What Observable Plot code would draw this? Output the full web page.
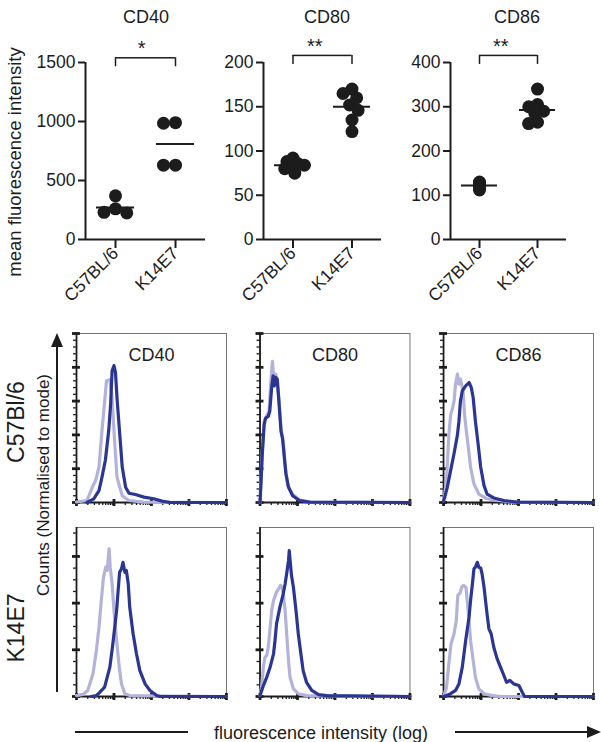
<!DOCTYPE html>
<html>
<head>
<meta charset="utf-8">
<script src="https://cdn.jsdelivr.net/npm/d3@7"></script>
<script src="https://cdn.jsdelivr.net/npm/@observablehq/plot@0.6"></script>
<style>
  body { margin: 0; background: #fff; }
  #fig { position: relative; width: 601px; height: 742px; overflow: hidden;
         font-family: Arial, "Liberation Sans", Helvetica, sans-serif; color: #1c1c1c; }
  .abs { position: absolute; }
  .lbl { position: absolute; white-space: nowrap; line-height: 1; }
  .bar { position: absolute; background: #1c1c1c; }
</style>
</head>
<body>
<div id="fig"></div>
<script>
// ---------------- data ----------------
const groups = ["C57BL/6", "K14E7"];
const markers = ["CD40", "CD80", "CD86"];
const significance = ["*", "**", "**"];

// mean fluorescence intensity, one value per mouse
const cd40_C57BL6 = [370, 260, 230, 225];
const cd40_K14E7  = [990, 985, 630, 630];
const cd80_C57BL6 = [92, 88, 86, 84, 82, 80, 75];
const cd80_K14E7  = [170, 165, 160, 152, 146, 135, 122];
const cd86_C57BL6 = [130, 127, 125, 122, 120, 117, 112];
const cd86_K14E7  = [340, 305, 300, 290, 285, 265, 262];

const yTicks_cd40 = [0, 500, 1000, 1500];
const yTicks_cd80 = [0, 50, 100, 150, 200];
const yTicks_cd86 = [0, 100, 200, 300, 400];
const bracketLevel = [1540, 208, 416];

// histograms: [log10 fluorescence intensity, % of mode]
const kinds = ["isotype", "stained"];
const b6_cd40_iso = [[1.00,0.3],[1.28,1.2],[1.42,9],[1.51,13],[1.60,21],[1.68,42.6],[1.76,62],[1.80,72],[1.89,72.6],[1.95,62],[2.01,38.6],[2.08,15],[2.22,4],[2.40,1.2],[2.80,0.2],[5.0,0]];
const b6_cd40_ab  = [[1.28,0],[1.46,2.2],[1.60,7],[1.68,15],[1.77,25],[1.86,42.6],[1.91,58],[1.95,78],[2.00,81],[2.04,77],[2.08,62],[2.16,38.6],[2.22,21],[2.31,9],[2.40,5.5],[2.57,4.7],[2.80,3.2],[3.06,2.2],[3.28,0.8],[3.50,0],[5.0,0]];
const b6_cd80_iso = [[1.00,0.2],[1.02,11],[1.06,30],[1.11,48],[1.17,51],[1.24,54],[1.29,72],[1.33,83.5],[1.37,74],[1.42,76],[1.46,70],[1.51,60],[1.56,44],[1.62,36],[1.67,22],[1.74,10],[1.86,5],[2.05,1.6],[2.32,0.2],[5.0,0]];
const b6_cd80_ab  = [[1.00,0.2],[1.02,9],[1.06,28.6],[1.11,46],[1.15,50],[1.22,51],[1.26,54],[1.31,68],[1.35,75],[1.38,69],[1.42,74],[1.46,73],[1.49,64],[1.56,42],[1.60,38],[1.64,28.6],[1.69,17],[1.76,9],[1.87,4],[2.05,1.2],[2.32,0.2],[5.0,0]];
const b6_cd86_iso = [[1.00,1],[1.03,5],[1.08,13],[1.14,40],[1.19,52],[1.23,55],[1.28,60],[1.32,70],[1.37,76],[1.41,70],[1.45,73],[1.52,66],[1.56,52],[1.61,42],[1.68,29],[1.72,21],[1.81,11],[1.94,5],[2.16,2.2],[2.43,1.2],[2.88,0.2],[5.0,0]];
const b6_cd86_ab  = [[1.00,1],[1.03,3],[1.10,9],[1.19,19],[1.28,29],[1.37,40],[1.41,48],[1.45,60],[1.50,66],[1.59,69],[1.68,71],[1.74,68],[1.79,62],[1.85,48],[1.92,35],[1.99,21],[2.08,10],[2.16,5],[2.34,2.7],[2.61,1.2],[2.96,0.2],[5.0,0]];
const k14_cd40_iso = [[1.00,0.4],[1.17,0.9],[1.30,2.6],[1.44,9.7],[1.53,19.7],[1.60,29.7],[1.66,41],[1.72,51],[1.78,55.4],[1.82,54],[1.87,63.3],[1.90,55.4],[1.95,48.3],[2.00,36.8],[2.07,24],[2.14,12.6],[2.20,5.4],[2.29,1.2],[2.42,0.4],[5.0,0]];
const k14_cd40_ab  = [[1.39,0],[1.53,0.4],[1.62,1.8],[1.75,4],[1.89,12.6],[1.97,22.6],[2.07,36.8],[2.11,45.4],[2.15,53.2],[2.20,54.7],[2.24,57.5],[2.29,53.2],[2.33,54],[2.38,48.3],[2.42,38.3],[2.51,26.9],[2.60,18.3],[2.69,11.1],[2.83,5.4],[2.96,2.6],[3.14,0.4],[3.23,0],[5.0,0]];
const k14_cd80_iso = [[1.00,0.4],[1.04,4],[1.09,12.6],[1.13,16.8],[1.18,17.6],[1.22,21.1],[1.27,29.7],[1.31,36.8],[1.36,41.1],[1.44,44.7],[1.55,47.6],[1.59,46.8],[1.62,44],[1.67,36.8],[1.71,26.9],[1.76,15.4],[1.80,8.3],[1.89,3.3],[2.02,1.2],[2.24,0.4],[5.0,0]];
const k14_cd80_ab  = [[1.00,0.4],[1.09,4.7],[1.18,8.3],[1.27,12.6],[1.36,18.3],[1.40,24],[1.44,31.1],[1.53,38.3],[1.62,44],[1.67,48.3],[1.71,52.6],[1.76,58.3],[1.78,62.5],[1.81,56.9],[1.84,51.8],[1.89,46.8],[1.96,36.8],[2.02,26.9],[2.09,18.3],[2.15,11.1],[2.24,6.1],[2.38,2.6],[2.56,0.8],[2.78,0.4],[5.0,0]];
const k14_cd86_iso = [[1.01,0.4],[1.08,4],[1.14,14],[1.20,22.6],[1.28,26.9],[1.34,32.6],[1.38,43.3],[1.44,44.3],[1.49,47.1],[1.54,47.6],[1.60,46.6],[1.63,41.1],[1.68,32.6],[1.72,24],[1.79,15.4],[1.85,8.3],[1.94,3.3],[2.08,1.2],[2.30,0.4],[2.52,0],[5.0,0]];
const k14_cd86_ab  = [[1.01,0],[1.19,1.2],[1.32,2.6],[1.41,5.4],[1.50,12.6],[1.59,24],[1.68,34],[1.72,41.1],[1.77,48.3],[1.81,54.7],[1.85,55.4],[1.90,57.5],[1.94,55.4],[1.99,55.1],[2.03,52.3],[2.08,46.8],[2.12,41.1],[2.16,35.4],[2.21,29],[2.27,26.9],[2.34,21.1],[2.43,16.1],[2.52,12.6],[2.61,9],[2.68,6.1],[2.77,6.9],[2.87,5.4],[3.01,4.7],[3.10,1.8],[3.16,0],[5.0,0]];

const histXDomain = [1, 5];
const histXMajor = [1, 2, 3, 4, 5];
const histXMinor = d3.range(1, 5).flatMap(d => d3.range(2, 10).map(k => d + Math.log10(k)));
const row1YMax = 100, row1YMajor = [0, 20, 40, 60, 80, 100], row1YMinor = d3.range(0, 101, 4).filter(d => d % 20);
const row2YMax = 72.4, row2YMajor = [0, 20, 40, 60], row2YMinor = d3.range(0, 72, 5).filter(d => d % 20);

// ---------------- styling ----------------
const FONT = "Arial, 'Liberation Sans', Helvetica, sans-serif";
const INK = "#1c1c1c";
const LIGHT = "#b3b3da";
const DARK = "#2b3692";
const fig = document.getElementById("fig");

function place(node, left, top) {
  const d = document.createElement("div");
  d.className = "abs";
  d.style.left = left + "px";
  d.style.top = top + "px";
  d.appendChild(node);
  fig.appendChild(d);
}
function label(text, cx, cy, size, rotate) {
  const d = document.createElement("div");
  d.className = "lbl";
  d.textContent = text;
  d.style.left = cx + "px";
  d.style.top = cy + "px";
  d.style.fontSize = size + "px";
  d.style.transform = "translate(-50%,-50%)" + (rotate ? " rotate(-90deg)" : "");
  fig.appendChild(d);
}
function bar(left, top, w, h) {
  const d = document.createElement("div");
  d.className = "bar";
  Object.assign(d.style, {left: left + "px", top: top + "px", width: w + "px", height: h + "px"});
  fig.appendChild(d);
}
function head(left, top, dir) {
  const d = document.createElement("div");
  d.className = "abs";
  d.style.left = left + "px";
  d.style.top = top + "px";
  d.style.width = "0"; d.style.height = "0";
  if (dir === "up") {
    d.style.borderLeft = "6px solid transparent";
    d.style.borderRight = "6px solid transparent";
    d.style.borderBottom = "14px solid " + INK;
  } else {
    d.style.borderTop = "6px solid transparent";
    d.style.borderBottom = "6px solid transparent";
    d.style.borderLeft = "14px solid " + INK;
  }
  fig.appendChild(d);
}

// ---------------- top: scatter panels ----------------
function scatterPanel(i, c57, k14, yTicks, layout) {
  const rowsA = c57.map(value => ({group: groups[0], value}));
  const rowsB = k14.map(value => ({group: groups[1], value}));
  const rows = [...rowsA, ...rowsB];
  const yMax = yTicks[yTicks.length - 1];
  const bracket = [{from: groups[0], to: groups[1], y: bracketLevel[i], label: significance[i]}];
  const half = layout.frameW / 4;
  const dims = {
    width: layout.width, height: 320,
    marginLeft: layout.marginLeft, marginRight: layout.width - layout.marginLeft - layout.frameW,
    marginTop: 62, marginBottom: 81,
    style: {fontFamily: FONT, fontSize: "17px", color: INK, background: "transparent", overflow: "visible"}
  };
  const dotOpts = {fx: "group", y: "value", r: 6.5, fill: INK, stroke: null};
  const plot = Plot.plot({
    ...dims,
    fx: {domain: groups, padding: 0, round: false, label: null},
    y: {domain: [0, yMax], label: null},
    marks: [
      Plot.ruleY([0], {stroke: INK, strokeWidth: 2}),
      Plot.axisY(yTicks, {tickSize: 7, tickPadding: 3, strokeWidth: 2, fontSize: 17.5, tickFormat: "d", label: null}),
      Plot.axisFx({anchor: "bottom", tickSize: 9, tickRotate: -45, tickPadding: 2, strokeWidth: 2, fontSize: 17.5, label: null}),
      Plot.dot(rowsA, Plot.dodgeX({anchor: "middle", padding: layout.dodgePad[0]}, dotOpts)),
      Plot.dot(rowsB, Plot.dodgeX({anchor: "middle", padding: layout.dodgePad[1]}, dotOpts)),
      Plot.tickY(rows, Plot.groupZ({y: "mean"}, {fx: "group", y: "value", stroke: INK, strokeWidth: 2, insetLeft: 11, insetRight: 11})),
      Plot.ruleY(bracket, {fx: "from", y: "y", insetLeft: half, stroke: INK, strokeWidth: 1.5}),
      Plot.ruleY(bracket, {fx: "to", y: "y", insetRight: half, stroke: INK, strokeWidth: 1.5}),
      Plot.ruleX(bracket, {fx: "from", x: null, y1: "y", y2: "y", insetBottom: -9, stroke: INK, strokeWidth: 1.5}),
      Plot.ruleX(bracket, {fx: "to", x: null, y1: "y", y2: "y", insetBottom: -9, stroke: INK, strokeWidth: 1.5}),
      Plot.text(bracket, {fx: "from", y: "y", text: "label", frameAnchor: "right", dy: -9, fontSize: 20, fill: INK})
    ]
  });
  place(plot, layout.left, 0);
  // y axis line, drawn in an unfaceted overlay sharing the same frame
  const axisLine = Plot.plot({
    ...dims,
    x: {domain: [0, 1], axis: null},
    y: {domain: [0, yMax], axis: null},
    marks: [Plot.ruleX([0], {y1: 0, y2: yMax, stroke: INK, strokeWidth: 2})]
  });
  place(axisLine, layout.left, 0);
}

scatterPanel(0, cd40_C57BL6, cd40_K14E7, yTicks_cd40, {left: 0, width: 212, marginLeft: 85, frameW: 120, dodgePad: [-1, -1]});
scatterPanel(1, cd80_C57BL6, cd80_K14E7, yTicks_cd80, {left: 205, width: 185, marginLeft: 58, frameW: 118, dodgePad: [-6, -3]});
scatterPanel(2, cd86_C57BL6, cd86_K14E7, yTicks_cd86, {left: 390, width: 211, marginLeft: 60, frameW: 116, dodgePad: [-7, -4]});

label("CD40", 146, 17, 18);
label("CD80", 327, 17, 18);
label("CD86", 517, 17, 18);
label("mean fluorescence intensity", 15, 162, 18.5, true);

// ---------------- bottom: histograms ----------------
function histRow(curves, yMax, yMajor, yMinor, withTitles, top, marginTop, marginBottom) {
  const height = 195, BW = 150;
  const H = height - marginTop - marginBottom;
  const rows = [];
  markers.forEach((m, j) => kinds.forEach((kind, k) => {
    for (const [lg, pct] of curves[j][k]) rows.push({marker: m, kind, lg, pct});
  }));
  const plot = Plot.plot({
    width: 541, height, marginLeft: 16, marginRight: 8, marginTop, marginBottom,
    style: {fontFamily: FONT, fontSize: "18px", color: INK, background: "transparent", overflow: "visible"},
    fx: {domain: markers, paddingInner: 0.183, paddingOuter: 0, round: false, axis: null},
    x: {domain: histXDomain, axis: null},
    y: {domain: [0, yMax], axis: null},
    color: {domain: kinds, range: [LIGHT, DARK]},
    marks: [
      Plot.frame({stroke: "#555", strokeWidth: 0.8}),
      Plot.ruleX([histXDomain[0]], {stroke: INK, strokeWidth: 1.8}),
      Plot.ruleY([0], {stroke: INK, strokeWidth: 1.8}),
      Plot.tickY(yMajor, {y: d => d, insetLeft: -4, insetRight: BW - 4, stroke: INK, strokeWidth: 2.8}),
      Plot.tickY(yMinor, {y: d => d, insetLeft: -3, insetRight: BW, stroke: INK, strokeWidth: 1.3}),
      Plot.tickX(histXMajor, {x: d => d, insetTop: H - 3, insetBottom: -4, stroke: INK, strokeWidth: 2.8}),
      Plot.tickX(histXMinor, {x: d => d, insetTop: H, insetBottom: -3, stroke: INK, strokeWidth: 1.3}),
      Plot.line(rows, {fx: "marker", x: "lg", y: "pct", z: "kind", stroke: "kind", strokeWidth: 3.2, strokeLinejoin: "round"}),
      withTitles ? Plot.text(markers, {fx: d => d, text: d => d, frameAnchor: "top", dy: 15, fontSize: 18, fill: INK}) : null
    ]
  });
  place(plot, 60, top);
}

histRow([[b6_cd40_iso, b6_cd40_ab], [b6_cd80_iso, b6_cd80_ab], [b6_cd86_iso, b6_cd86_ab]],
        row1YMax, row1YMajor, row1YMinor, true, 320, 13, 13);
histRow([[k14_cd40_iso, k14_cd40_ab], [k14_cd80_iso, k14_cd80_ab], [k14_cd86_iso, k14_cd86_ab]],
        row2YMax, row2YMajor, row2YMinor, false, 515, 12, 14);

label("C57Bl/6", 16, 422, 23, true);
label("K14E7", 16, 628, 23, true);
label("Counts (Normalised to mode)", 43, 485, 17, true);
label("fluorescence intensity (log)", 321, 733, 18);

// axis arrows
bar(56, 345, 2, 347);
head(51, 333, "up");
bar(75, 731, 113, 2);
bar(455, 731, 133, 2);
head(587, 726, "right");
</script>
</body>
</html>
